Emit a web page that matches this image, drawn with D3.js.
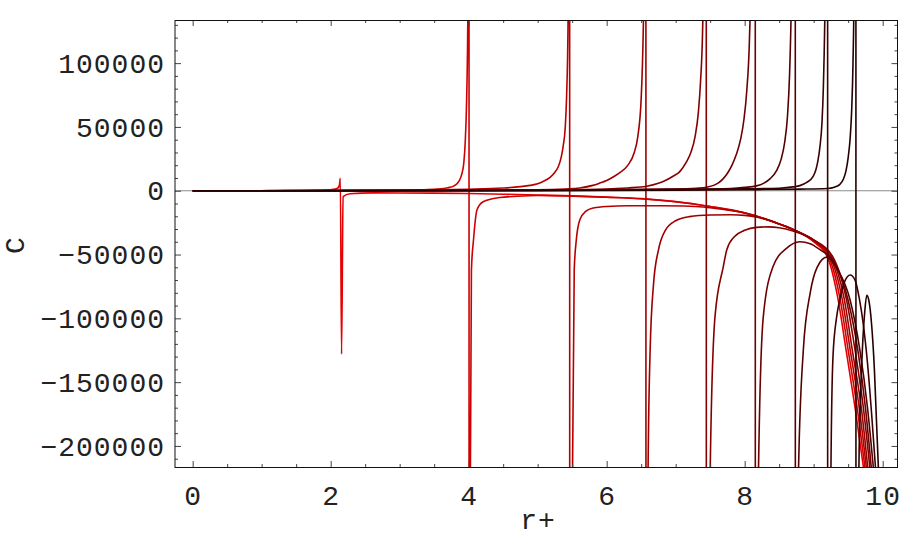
<!DOCTYPE html>
<html>
<head>
<meta charset="utf-8">
<script src="https://cdn.jsdelivr.net/npm/d3@7"></script>
<style>
  body { margin: 0; background: #fff; }
  svg { display: block; }
  .lbl, .tick text { font-family: "Liberation Mono", monospace; font-size: 28px; letter-spacing: 1px; fill: #222; }
  .tick line { stroke: #444; }
</style>
</head>
<body>
<svg id="chart" width="900" height="556"></svg>
<script>
// tick values
const xTicks = [0, 2, 4, 6, 8, 10];
const yTicks = [100000, 50000, 0, -50000, -100000, -150000, -200000];

// curves as [r+, C], red -> dark
const curve1 = [[0,0],[0.5,10],[1,40],[1.5,130],[1.8,300],[1.91,500],[2.04,1100],[2.1,2000],[2.125,4000],[2.14,9700],[2.158,-128000],[2.18,-4700],[2.28,-2400],[2.6,-1700],[3,-1750],[3.5,-1900],[4,-2200],[4.5,-2700],[5,-3300],[5.5,-4000],[6,-5000],[6.5,-6200],[7,-8500],[7.5,-12300],[8,-17300],[8.5,-26000],[8.75,-31500],[9,-40000],[9.2,-52000],[9.35,-84000],[9.47,-125000],[9.6,-170000],[9.73,-220000]];
const curve2 = [[0,0],[1,30],[2,130],[2.5,280],[3,500],[3.3,750],[3.54,1300],[3.7,2400],[3.78,3600],[3.83,5500],[3.87,8500],[3.9,13000],[3.93,22000],[3.95,38000],[3.97,70000],[3.985,120000],[3.995,200000],[4.003,2e6],[4.008,-2e6],[4.025,-220000],[4.04,-62000],[4.07,-38600],[4.12,-15100],[4.21,-8600],[4.45,-5300],[4.7,-4300],[5,-3700],[5.5,-4200],[6,-5100],[6.5,-6300],[7,-8600],[7.5,-12400],[8,-17400],[8.5,-26000],[8.75,-31500],[9,-39500],[9.22,-52000],[9.38,-84000],[9.5,-125000],[9.63,-170000],[9.75,-220000]];
const curve3 = [[0,0],[1,20],[2,80],[3,300],[3.5,600],[4,1100],[4.5,2100],[4.75,3200],[4.89,4200],[5,5400],[5.1,7800],[5.18,10500],[5.25,14500],[5.3,19000],[5.34,26000],[5.37,35000],[5.4,50000],[5.42,75000],[5.44,130000],[5.45,200000],[5.46,2e6],[5.468,-2e6],[5.505,-220000],[5.53,-62000],[5.56,-38600],[5.61,-23000],[5.7,-16000],[5.81,-13500],[6,-12300],[6.3,-11800],[6.8,-11800],[7.1,-12000],[7.4,-12700],[7.7,-14700],[8,-17400],[8.5,-26000],[8.75,-31500],[9,-39000],[9.24,-52000],[9.41,-84000],[9.53,-125000],[9.66,-170000],[9.77,-220000]];
const curve4 = [[0,0],[2,50],[3,150],[4,400],[5,700],[5.4,1400],[5.61,2200],[5.8,4200],[5.9,6000],[6,8000],[6.1,11000],[6.2,14500],[6.3,19500],[6.4,30000],[6.45,42000],[6.5,72000],[6.53,125000],[6.55,200000],[6.565,2e6],[6.573,-2e6],[6.6,-220000],[6.63,-125000],[6.68,-72600],[6.75,-46500],[6.85,-31000],[7,-23500],[7.2,-20300],[7.5,-19000],[7.8,-18800],[8,-19300],[8.2,-21000],[8.5,-26000],[8.75,-31500],[9,-38500],[9.26,-52000],[9.44,-84000],[9.56,-125000],[9.69,-170000],[9.79,-220000]];
const curve5 = [[0,0],[3,100],[4,250],[5,600],[6,1400],[6.3,2200],[6.58,3500],[6.75,5800],[6.85,8000],[6.95,11000],[7.06,15000],[7.15,22000],[7.22,30000],[7.28,42000],[7.33,62000],[7.36,85000],[7.39,125000],[7.41,190000],[7.44,2e6],[7.448,-2e6],[7.5,-220000],[7.57,-98700],[7.69,-59600],[7.74,-46500],[7.85,-36000],[8,-31000],[8.17,-28700],[8.35,-28300],[8.5,-29000],[8.7,-31500],[9,-38500],[9.28,-52000],[9.47,-84000],[9.6,-125000],[9.72,-170000],[9.82,-220000]];
const curve6 = [[0,0],[3,80],[4,200],[5,450],[6,900],[7,1300],[7.3,2000],[7.45,2800],[7.55,4200],[7.62,6200],[7.69,9500],[7.76,14500],[7.82,20500],[7.88,28500],[7.94,40000],[7.99,56000],[8.03,78000],[8.07,120000],[8.09,170000],[8.15,2e6],[8.158,-2e6],[8.2,-220000],[8.27,-98700],[8.41,-59600],[8.61,-45000],[8.8,-40000],[8.95,-41500],[9.1,-46500],[9.3,-56000],[9.5,-86000],[9.64,-125000],[9.75,-170000],[9.84,-220000]];
const curve7 = [[0,0],[4,150],[5,350],[6,700],[7,1200],[7.8,1800],[8,2600],[8.17,3800],[8.28,6000],[8.37,9500],[8.46,15500],[8.53,25000],[8.58,38000],[8.62,58000],[8.65,90000],[8.67,130000],[8.69,200000],[8.73,2e6],[8.738,-2e6],[8.78,-220000],[8.85,-125000],[8.95,-80000],[9.05,-60000],[9.19,-52000],[9.35,-62000],[9.53,-86000],[9.67,-125000],[9.78,-170000],[9.87,-220000]];
const curve8 = [[0,0],[5,200],[6,450],[7,900],[8,1500],[8.5,2000],[8.7,3000],[8.8,4000],[8.9,6500],[8.99,11000],[9.03,16000],[9.06,23000],[9.09,34000],[9.12,53000],[9.14,80000],[9.16,130000],[9.175,200000],[9.2,2e6],[9.205,-2e6],[9.25,-220000],[9.28,-130000],[9.33,-100000],[9.38,-85000],[9.45,-71000],[9.53,-66000],[9.6,-70000],[9.66,-84000],[9.72,-105000],[9.78,-135000],[9.84,-175000],[9.9,-220000]];
const curve9 = [[0,0],[5,80],[6,200],[7,400],[8,800],[8.8,1300],[9.2,1800],[9.3,2800],[9.38,5000],[9.43,9000],[9.47,16000],[9.5,26000],[9.53,42000],[9.55,62000],[9.57,100000],[9.585,160000],[9.61,2e6],[9.615,-2e6],[9.655,-220000],[9.68,-160000],[9.71,-120000],[9.74,-95000],[9.77,-82000],[9.8,-86000],[9.84,-105000],[9.88,-140000],[9.91,-180000],[9.94,-220000]];

const curves = [curve1, curve2, curve3, curve4, curve5, curve6, curve7, curve8, curve9];

const svg = d3.select("#chart");
const box = { left: 175, right: 897.5, top: 20, bottom: 467 };

const x = d3.scaleLinear().domain([-0.256, 10.215]).range([box.left, box.right]);
const y = d3.scaleLinear().domain([-216500, 133800]).range([box.bottom, box.top]);

const color = d3.scaleLinear().domain([0, curves.length - 1]).range(["#e60000", "#250000"]);

svg.append("clipPath").attr("id", "plotClip")
    .append("rect")
    .attr("x", box.left).attr("y", box.top)
    .attr("width", box.right - box.left).attr("height", box.bottom - box.top);

// zero axis
svg.append("line")
    .attr("x1", box.left).attr("x2", box.right)
    .attr("y1", y(0)).attr("y2", y(0))
    .attr("stroke", "#8a8a8a").attr("stroke-width", 1.2);

const line = d3.line()
    .x(d => x(d[0]))
    .y(d => y(d[1]))
    .curve(d3.curveMonotoneX);

svg.append("g").attr("clip-path", "url(#plotClip)")
    .selectAll("path")
    .data(curves)
    .join("path")
    .attr("d", line)
    .attr("fill", "none")
    .attr("stroke", (d, i) => color(i))
    .attr("stroke-width", 1.6)
    .attr("stroke-linejoin", "round");

// frame ticks, pointing inward
const xMinor = d3.range(0, 10.01, 0.5).filter(v => !xTicks.includes(v));
const yMinor = d3.range(-210000, 130001, 10000).filter(v => !yTicks.includes(v));
const fmt = d3.format("d");

function frameAxis(axisFn, scale, major, minor, pos, labels) {
    const gMin = svg.append("g").attr("transform", pos)
        .call(axisFn(scale).tickValues(minor).tickSize(-3).tickFormat(""));
    gMin.select(".domain").remove();
    const g = svg.append("g").attr("transform", pos)
        .call(axisFn(scale).tickValues(major).tickSize(-6).tickPadding(labels ? 10 : 0)
            .tickFormat(labels ? fmt : ""));
    g.select(".domain").remove();
    return g;
}

frameAxis(d3.axisLeft, y, yTicks, yMinor, `translate(${box.left},0)`, true)
    .selectAll("text").attr("dy", "0.33em");
frameAxis(d3.axisRight, y, yTicks, yMinor, `translate(${box.right},0)`, false);
frameAxis(d3.axisTop, x, xTicks, xMinor, `translate(0,${box.top})`, false);
frameAxis(d3.axisBottom, x, xTicks, xMinor, `translate(0,${box.bottom})`, true)
    .selectAll("text").attr("dy", "0.71em").attr("y", 18);

svg.append("rect")
    .attr("x", box.left).attr("y", box.top + 0.5)
    .attr("width", box.right - box.left).attr("height", box.bottom - box.top)
    .attr("fill", "none").attr("stroke", "#111").attr("stroke-width", 1);

svg.append("text").attr("class", "lbl")
    .attr("x", 538).attr("y", 529)
    .attr("text-anchor", "middle")
    .text("r+");

svg.append("text").attr("class", "lbl")
    .attr("transform", "translate(24,245) rotate(-90)")
    .attr("text-anchor", "middle")
    .text("C");
</script>
</body>
</html>
